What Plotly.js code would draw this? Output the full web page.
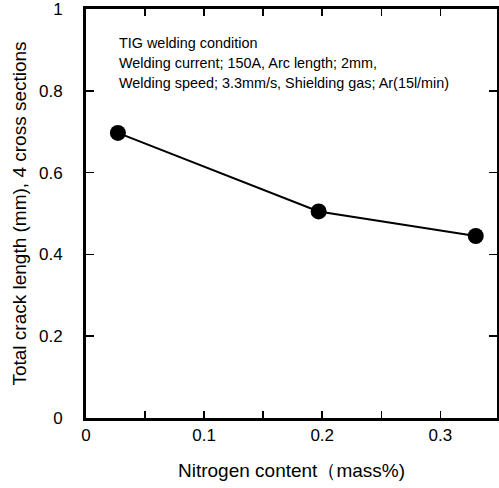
<!DOCTYPE html>
<html>
<head>
<meta charset="utf-8">
<script src="https://cdn.plot.ly/plotly-3.0.1.min.js"></script>
<style>html,body{margin:0;padding:0;background:#fff;}#chart{width:499px;height:488px;}</style>
</head>
<body>
<div id="chart"></div>
<script>
const nitrogen = [0.027, 0.197, 0.330];
const crackLength = [0.697, 0.505, 0.445];
const xTickVals = [0, 0.1, 0.2, 0.3];
const xTickText = ["0", "0.1", "0.2", "0.3"];
const yTickVals = [0, 0.2, 0.4, 0.6, 0.8, 1];
const yTickText = ["0", "0.2", "0.4", "0.6", "0.8", "1"];
const conditionLines = [
  "TIG welding condition",
  "Welding current; 150A, Arc length; 2mm,",
  "Welding speed; 3.3mm/s, Shielding gas; Ar(15l/min)"
];

const font = "Liberation Sans, Arial, sans-serif";

const trace = {
  x: nitrogen, y: crackLength, type: "scatter", mode: "lines+markers",
  line: {color: "#000", width: 2},
  marker: {color: "#000", size: 16},
  showlegend: false, cliponaxis: false
};

const annotations = conditionLines.map((t, i) => ({
  xref: "paper", yref: "paper", x: 0.075, y: 0.918 - i * 0.049,
  xanchor: "left", yanchor: "middle", align: "left", showarrow: false,
  text: t, font: {size: 14.4, family: font, color: "#000"}
}));

const layout = {
  width: 499, height: 488,
  margin: {l: 86, r: 2, t: 9, b: 70},
  paper_bgcolor: "#fff", plot_bgcolor: "#fff",
  font: {family: font, color: "#000", size: 16},
  xaxis: {
    range: [0, 0.348], tickvals: xTickVals, ticktext: xTickText,
    ticks: "inside", ticklen: 7, tickwidth: 1.5, tickcolor: "#000",
    minor: {dtick: 0.05, tick0: 0, ticks: "inside", ticklen: 7, tickwidth: 1.5, tickcolor: "#000"},
    showline: true, linewidth: 3, linecolor: "#000", mirror: "ticks",
    showgrid: false, zeroline: false,
    tickfont: {size: 17, family: font},
    ticklabeloverflow: "allow",
    title: {text: "Nitrogen content（mass%)", font: {size: 19, family: font}, standoff: 20}
  },
  yaxis: {
    range: [0, 1], tickvals: yTickVals, ticktext: yTickText,
    ticks: "inside", ticklen: 8, tickwidth: 1.5, tickcolor: "#000",
    showline: true, linewidth: 3, linecolor: "#000", mirror: "ticks",
    showgrid: false, zeroline: false,
    ticklabelstandoff: 17,
    ticklabeloverflow: "allow",
    tickfont: {size: 17, family: font},
    title: {text: "Total crack length (mm), 4 cross sections", font: {size: 19, family: font}, standoff: 8}
  },
  annotations: annotations
};

Plotly.newPlot("chart", [trace], layout, {displayModeBar: false, staticPlot: true});
</script>
</body>
</html>
